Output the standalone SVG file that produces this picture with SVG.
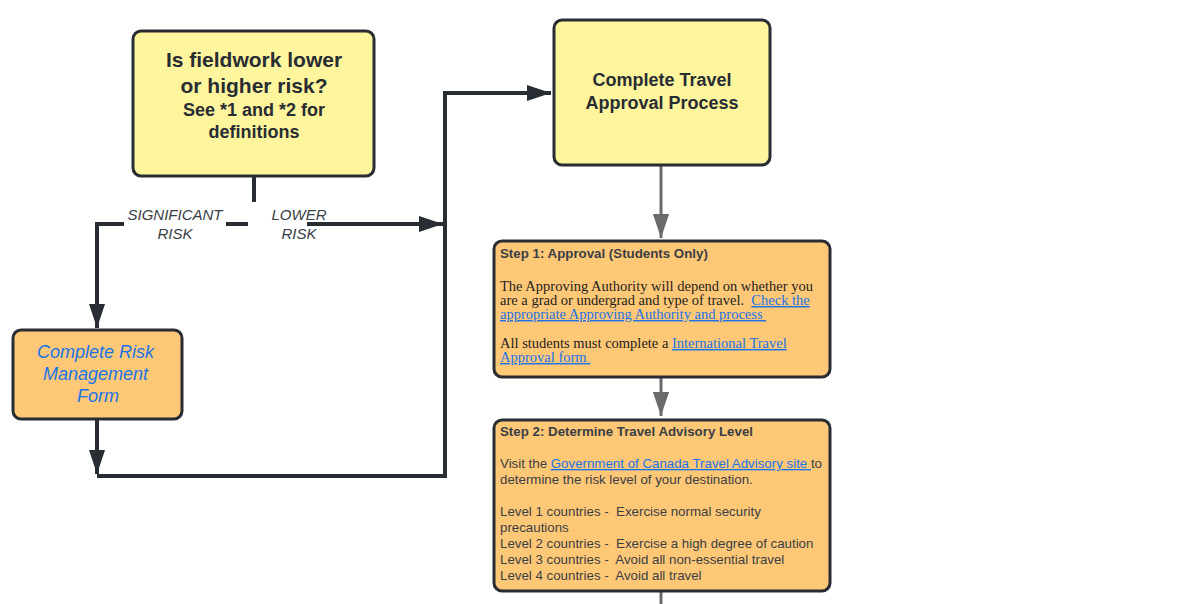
<svg xmlns="http://www.w3.org/2000/svg" width="1199" height="604" viewBox="0 0 1199 604">
<style>
.box{stroke:#282c33;stroke-width:3}
.yel{fill:#fff59d}
.org{fill:#ffc876}
.dk{fill:none;stroke:#282c33;stroke-width:4}
.gr{fill:none;stroke:#6b6b6b;stroke-width:3}
.h{font-family:"Liberation Sans",Arial,sans-serif;font-weight:bold;fill:#282c33;text-anchor:middle}
.lbl{font-family:"Liberation Sans",Arial,sans-serif;font-style:italic;font-size:15px;fill:#3a3e45;text-anchor:middle}
.s{font-family:"Liberation Sans",Arial,sans-serif;font-size:13.3px;fill:#3a3e45;white-space:pre}
.sb{font-family:"Liberation Sans",Arial,sans-serif;font-size:13.3px;font-weight:bold;fill:#3a3e45}
.sf{font-family:"Liberation Serif","Times New Roman",serif;font-size:14.5px;fill:#1e1e1e;white-space:pre}
.lnk{fill:#1a73e8;text-decoration:underline}
</style>
<defs>
<marker id="ad" markerWidth="6" markerHeight="4" refX="6" refY="2" orient="auto" markerUnits="strokeWidth"><path d="M0,0 L6,2 L0,4 Z" fill="#282c33"/></marker>
<marker id="ag" markerWidth="8" markerHeight="5.4" refX="8" refY="2.7" orient="auto" markerUnits="strokeWidth"><path d="M0,0 L8,2.7 L0,5.4 Z" fill="#6b6b6b"/></marker>
</defs>
<g id="connectors">
<path class="dk" d="M254,176 V202"/>
<path class="dk" d="M226,224 H248"/>
<path class="dk" d="M124,224 H97 V328" marker-end="url(#ad)"/>
<path class="dk" d="M307,224 H443" marker-end="url(#ad)"/>
<path class="dk" d="M97,420 V474" marker-end="url(#ad)"/>
<path class="dk" d="M97,476 H445 V93 H551" marker-end="url(#ad)"/>
<path class="gr" d="M661,165 V238" marker-end="url(#ag)"/>
<path class="gr" d="M661,377 V416" marker-end="url(#ag)"/>
<path class="gr" d="M661,591 V604"/>
<text class="lbl" x="175" y="220">SIGNIFICANT</text>
<text class="lbl" x="175" y="239">RISK</text>
<text class="lbl" x="299" y="220">LOWER</text>
<text class="lbl" x="299" y="239">RISK</text>
</g>
<g id="decision">
<rect class="box yel" x="133" y="31" width="241" height="145" rx="8"/>
<text class="h" x="254" y="67" font-size="21">Is fieldwork lower</text>
<text class="h" x="254" y="93" font-size="21">or higher risk?</text>
<text class="h" x="254" y="116" font-size="18">See *1 and *2 for</text>
<text class="h" x="254" y="138" font-size="18">definitions</text>
</g>
<g id="travel-approval">
<rect class="box yel" x="554" y="20" width="216" height="145" rx="8"/>
<text class="h" x="662" y="86" font-size="18">Complete Travel</text>
<text class="h" x="662" y="109" font-size="18">Approval Process</text>
</g>
<g id="risk-form">
<rect class="box org" x="13" y="330" width="169" height="89" rx="8"/>
<text font-family="Liberation Sans,Arial,sans-serif" font-style="italic" font-size="18" fill="#1a73e8" text-anchor="middle">
<tspan x="98" y="358">Complete Risk</tspan>
<tspan x="98" y="380">Management</tspan>
<tspan x="98" y="402">Form</tspan>
</text>
</g>
<g id="step1">
<rect class="box org" x="494" y="241" width="336" height="136" rx="8"/>
<text class="sb" x="500" y="258">Step 1: Approval (Students Only)</text>
<text class="sf" x="500" y="291">The Approving Authority will depend on whether you</text>
<text class="sf" x="500" y="305">are a grad or undergrad and type of travel.  <tspan class="lnk">Check the</tspan></text>
<text class="sf lnk" x="500" y="319">appropriate Approving Authority and process </text>
<text class="sf" x="500" y="348">All students must complete a <tspan class="lnk">International Travel</tspan></text>
<text class="sf lnk" x="500" y="362">Approval form </text>
</g>
<g id="step2">
<rect class="box org" x="494" y="420" width="336" height="171" rx="8"/>
<text class="sb" x="500" y="436">Step 2: Determine Travel Advisory Level</text>
<text class="s" x="500" y="468">Visit the <tspan class="lnk">Government of Canada Travel Advisory site </tspan>to</text>
<text class="s" x="500" y="484">determine the risk level of your destination.</text>
<text class="s" x="500" y="516">Level 1 countries -  Exercise normal security</text>
<text class="s" x="500" y="532">precautions</text>
<text class="s" x="500" y="548">Level 2 countries -  Exercise a high degree of caution</text>
<text class="s" x="500" y="564">Level 3 countries -  Avoid all non-essential travel</text>
<text class="s" x="500" y="580">Level 4 countries -  Avoid all travel</text>
</g>
</svg>
